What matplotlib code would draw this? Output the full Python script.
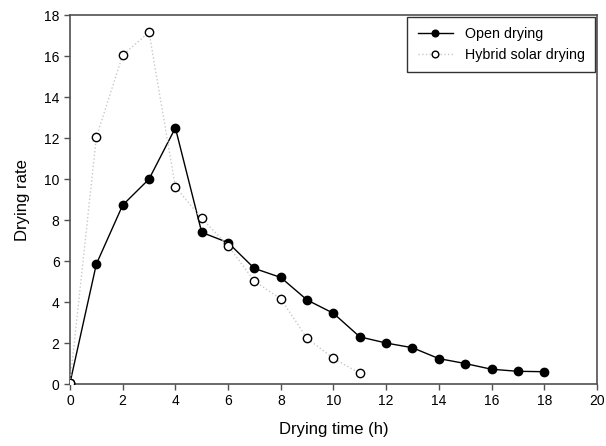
import numpy as np
import matplotlib.pyplot as plt

plt.rcParams['font.family'] = ['Liberation Sans', 'DejaVu Sans']

# datos
t_open = [0, 1, 2, 3, 4, 5, 6, 7, 8, 9, 10, 11, 12, 13, 14, 15, 16, 17, 18]
rate_open = [0.05, 5.85, 8.73, 10.0, 12.5, 7.4, 6.9, 5.64, 5.2, 4.1, 3.45,
             2.3, 2.0, 1.77, 1.24, 1.0, 0.72, 0.62, 0.6]

t_hybrid = [0, 1, 2, 3, 4, 5, 6, 7, 8, 9, 10, 11]
rate_hybrid = [0.05, 12.05, 16.05, 17.17, 9.62, 8.08, 6.75, 5.02, 4.15,
               2.23, 1.25, 0.52]

xticks = np.arange(0, 21, 2)
yticks = np.arange(0, 19, 2)

fig = plt.figure(figsize=(6.06, 4.46), dpi=100)
ax = fig.add_axes([0.1155, 0.139, 0.8695, 0.827])

ax.plot(t_open, rate_open, color='black', lw=1, marker='o', ms=6,
        mfc='black', mec='black', label='Open drying', zorder=3)
ax.plot(t_hybrid, rate_hybrid, color='#c8c8c8', lw=1, ls=':', marker='o',
        ms=6, mfc='white', mec='black', mew=1, label='Hybrid solar drying',
        zorder=4)

ax.set_xlim(0, 20)
ax.set_ylim(0, 18)
ax.set_xticks(xticks)
ax.set_yticks(yticks)
ax.tick_params(direction='out', length=4, width=1, colors='#505050',
               labelcolor='black', labelsize=10, top=False, right=False)

for s in ax.spines.values():
    s.set_color('#505050')
    s.set_linewidth(1.2)

ax.set_xlabel('Drying time (h)', fontsize=12, labelpad=10)
ax.set_ylabel('Drying rate', fontsize=12, labelpad=10)

leg = ax.legend(loc='upper right', fontsize=10.3, frameon=True, fancybox=False,
                edgecolor='black', borderaxespad=0.1, handlelength=2.5,
                labelspacing=0.45, borderpad=0.75, markerscale=0.8)
leg.get_frame().set_linewidth(1)

fig.savefig('out.png', dpi=100)
